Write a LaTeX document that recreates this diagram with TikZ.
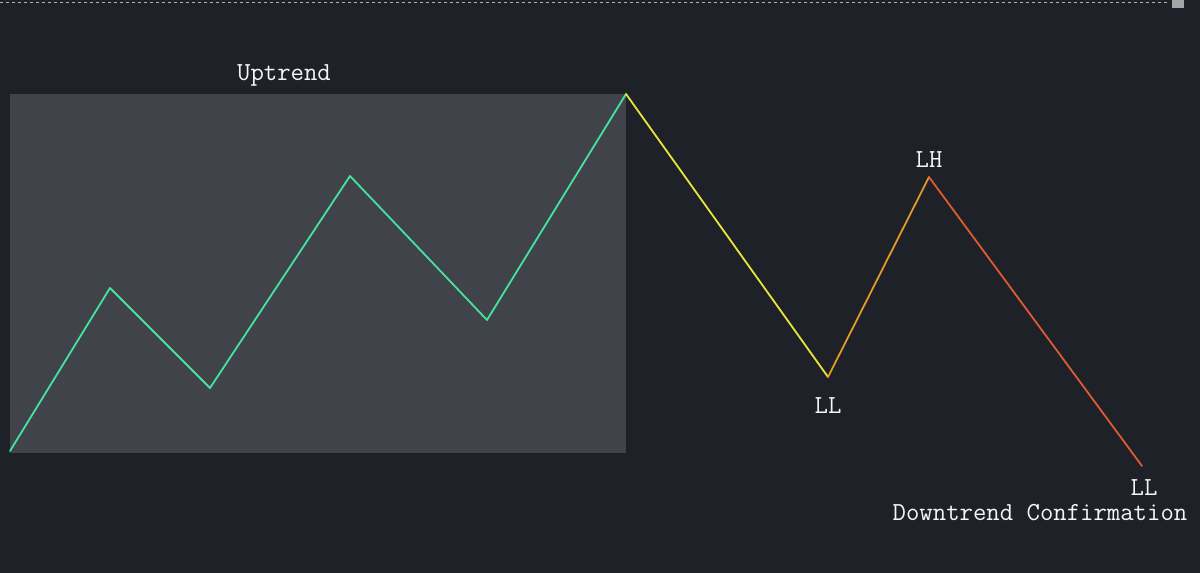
\documentclass[tikz,border=0pt]{standalone}
\definecolor{bgdark}{HTML}{1E2128}
\definecolor{boxgray}{HTML}{40434A}
\definecolor{upgreen}{HTML}{45E3A0}
\definecolor{downyellow}{HTML}{E6E63A}
\definecolor{downorange}{HTML}{E39A28}
\definecolor{downred}{HTML}{DF5A32}
\tikzset{
  leg/.style={line width=1.8pt, line cap=round, line join=round},
  lbl/.style={text=white!92!gray, font=\ttfamily\fontsize{26}{28}\selectfont, inner sep=0pt}
}
\begin{document}
\begin{tikzpicture}[x=1pt, y=-1pt]
    % Fond
    \fill[bgdark] (0,0) rectangle (1200,573);
    \useasboundingbox (0,0) rectangle (1200,573);
    \draw[gray!60, dashed, line width=0.8pt] (0,2) -- (1170,2);
    \fill[gray!70] (1172,0) rectangle (1184,8);

    % Zone de tendance haussiere
    \fill[boxgray] (10,94) rectangle (626,453);
    \node[lbl] (uptrend) at (284,75) {Uptrend};

    % Points de swing
    \coordinate (p0) at (10,451);
    \coordinate (p1) at (110,288);
    \coordinate (p2) at (210,388);
    \coordinate (p3) at (350,176);
    \coordinate (p4) at (487,320);
    \coordinate (p5) at (626,94);
    \coordinate (p6) at (828,377);
    \coordinate (p7) at (929,177);
    \coordinate (p8) at (1142,466);

    % Segments
    \draw[leg, upgreen] (p0) -- (p1) -- (p2) -- (p3) -- (p4) -- (p5);
    \draw[leg, downyellow] (p5) -- (p6);
    \draw[leg, downorange] (p6) -- (p7);
    \draw[leg, downred] (p7) -- (p8);

    % Etiquettes
    \node[lbl] (lh) at (929,160) {LH};
    \node[lbl] (ll1) at (828,406) {LL};
    \node[lbl] (ll2) at (1144,488) {LL};
    \node[lbl] (confirm) at (1040,513) {Downtrend Confirmation};
\end{tikzpicture}
\end{document}
